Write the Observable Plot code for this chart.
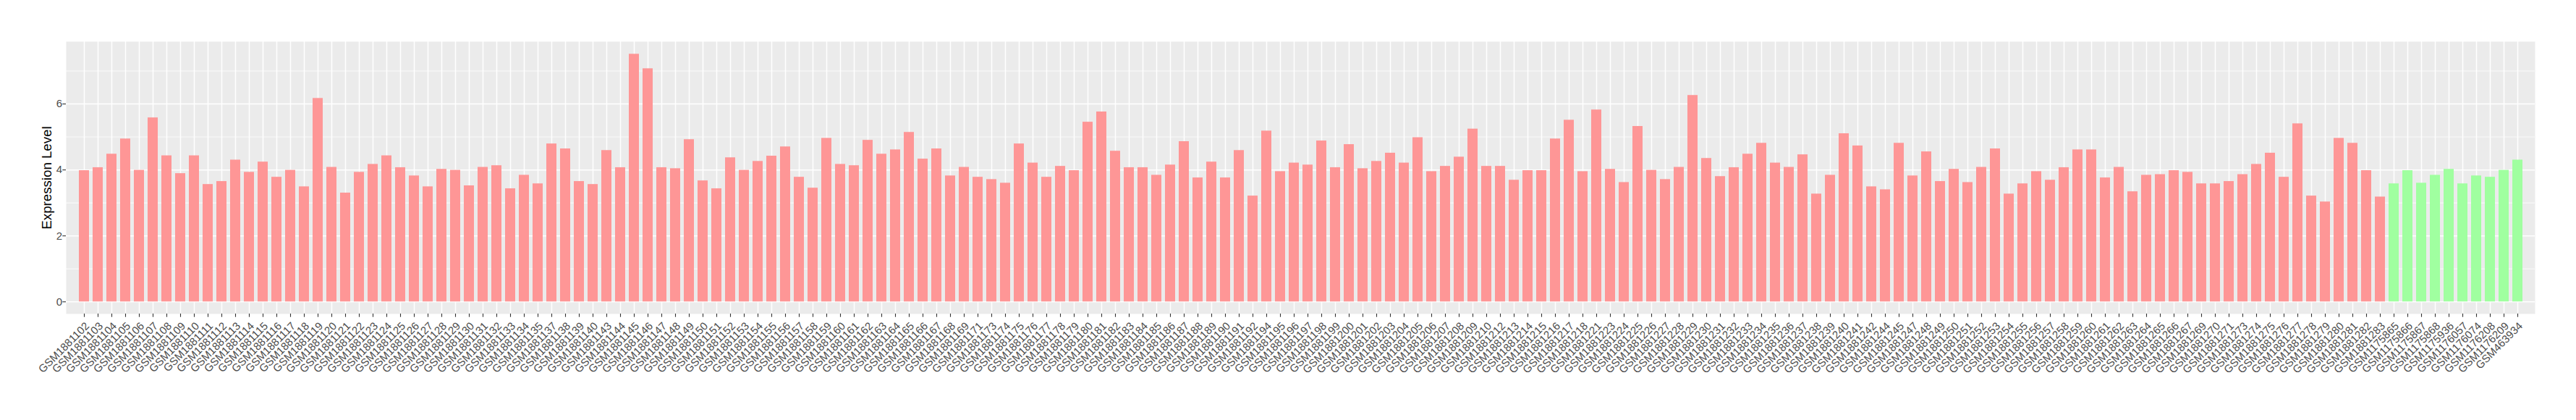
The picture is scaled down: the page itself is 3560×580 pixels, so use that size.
<!DOCTYPE html>
<html><head><meta charset="utf-8">
<script src="https://cdn.jsdelivr.net/npm/d3@7"></script>
<script src="https://cdn.jsdelivr.net/npm/@observablehq/plot@0.6"></script>
<style>
body{margin:0;background:#fff;}
#chart svg{font-family:"Liberation Sans",Arial,Helvetica,sans-serif;}
</style>
</head><body><div id="chart"></div>
<script>
const tumorSamples = [
"GSM1881102","GSM1881103","GSM1881104","GSM1881105","GSM1881106","GSM1881107","GSM1881108","GSM1881109","GSM1881110","GSM1881111",
"GSM1881112","GSM1881113","GSM1881114","GSM1881115","GSM1881116","GSM1881117","GSM1881118","GSM1881119","GSM1881120","GSM1881121",
"GSM1881122","GSM1881123","GSM1881124","GSM1881125","GSM1881126","GSM1881127","GSM1881128","GSM1881129","GSM1881130","GSM1881131",
"GSM1881132","GSM1881133","GSM1881134","GSM1881135","GSM1881137","GSM1881138","GSM1881139","GSM1881140","GSM1881143","GSM1881144",
"GSM1881145","GSM1881146","GSM1881147","GSM1881148","GSM1881149","GSM1881150","GSM1881151","GSM1881152","GSM1881153","GSM1881154",
"GSM1881155","GSM1881156","GSM1881157","GSM1881158","GSM1881159","GSM1881160","GSM1881161","GSM1881162","GSM1881163","GSM1881164",
"GSM1881165","GSM1881166","GSM1881167","GSM1881168","GSM1881169","GSM1881171","GSM1881173","GSM1881174","GSM1881175","GSM1881176",
"GSM1881177","GSM1881178","GSM1881179","GSM1881180","GSM1881181","GSM1881182","GSM1881183","GSM1881184","GSM1881185","GSM1881186",
"GSM1881187","GSM1881188","GSM1881189","GSM1881190","GSM1881191","GSM1881192","GSM1881194","GSM1881195","GSM1881196","GSM1881197",
"GSM1881198","GSM1881199","GSM1881200","GSM1881201","GSM1881202","GSM1881203","GSM1881204","GSM1881205","GSM1881206","GSM1881207",
"GSM1881208","GSM1881209","GSM1881210","GSM1881212","GSM1881213","GSM1881214","GSM1881215","GSM1881216","GSM1881217","GSM1881218",
"GSM1881221","GSM1881223","GSM1881224","GSM1881225","GSM1881226","GSM1881227","GSM1881228","GSM1881229","GSM1881230","GSM1881231",
"GSM1881232","GSM1881233","GSM1881234","GSM1881235","GSM1881236","GSM1881237","GSM1881238","GSM1881239","GSM1881240","GSM1881241",
"GSM1881242","GSM1881244","GSM1881245","GSM1881247","GSM1881248","GSM1881249","GSM1881250","GSM1881251","GSM1881252","GSM1881253",
"GSM1881254","GSM1881255","GSM1881256","GSM1881257","GSM1881258","GSM1881259","GSM1881260","GSM1881261","GSM1881262","GSM1881263",
"GSM1881264","GSM1881265","GSM1881266","GSM1881267","GSM1881269","GSM1881270","GSM1881271","GSM1881273","GSM1881274","GSM1881275",
"GSM1881276","GSM1881277","GSM1881278","GSM1881279","GSM1881280","GSM1881281","GSM1881282","GSM1881283"
];
const tumorValues = [
3.98,4.07,4.48,4.94,3.99,5.58,4.43,3.89,4.43,3.56,
3.65,4.30,3.93,4.24,3.78,3.99,3.49,6.17,4.08,3.30,
3.93,4.17,4.43,4.07,3.82,3.49,4.02,3.99,3.52,4.08,
4.13,3.43,3.84,3.58,4.79,4.64,3.65,3.56,4.59,4.07,
7.51,7.07,4.07,4.04,4.92,3.67,3.43,4.37,3.99,4.26,
4.42,4.70,3.78,3.45,4.96,4.17,4.13,4.90,4.48,4.61,
5.14,4.33,4.64,3.82,4.08,3.78,3.71,3.60,4.79,4.21,
3.78,4.11,3.98,5.45,5.76,4.57,4.07,4.07,3.84,4.15,
4.86,3.76,4.24,3.76,4.59,3.21,5.18,3.95,4.21,4.15,
4.88,4.07,4.77,4.04,4.26,4.51,4.21,4.98,3.95,4.11,
4.39,5.24,4.11,4.11,3.69,3.98,3.98,4.94,5.51,3.95,
5.82,4.02,3.62,5.32,3.99,3.71,4.08,6.26,4.35,3.80,
4.07,4.48,4.81,4.21,4.08,4.46,3.27,3.84,5.10,4.73,
3.49,3.40,4.81,3.82,4.55,3.65,4.02,3.62,4.08,4.64,
3.27,3.58,3.95,3.69,4.07,4.61,4.61,3.76,4.08,3.34,
3.84,3.86,3.98,3.93,3.58,3.58,3.65,3.86,4.17,4.51,
3.78,5.40,3.21,3.03,4.96,4.81,3.98,3.18
];
const normalSamples = [
"GSM1175865","GSM1175866","GSM1175867","GSM1175868","GSM1175936",
"GSM1176057","GSM1176074","GSM1176208","GSM1176209","GSM463934"
];
const normalValues = [3.58,3.98,3.60,3.84,4.02,3.58,3.82,3.78,3.99,4.30];
const groupNames = ["Tumor","Normal"];
const yMajorTicks = [0,2,4,6];
const yMinorTicks = [1,3,5,7];
const yTitle = "Expression Level";

const data = [
  ...tumorSamples.map((s,i)=>({sample:s, value:tumorValues[i], group:groupNames[0]})),
  ...normalSamples.map((s,i)=>({sample:s, value:normalValues[i], group:groupNames[1]}))
];

const tickLen = 4.7;
const chart = Plot.plot({
  width:3560, height:580,
  marginLeft:91, marginRight:57, marginTop:57, marginBottom:147,
  style:{fontFamily:"Liberation Sans, Arial, Helvetica, sans-serif", background:"white", overflow:"visible"},
  x:{type:"band", domain:data.map(d=>d.sample), paddingInner:0.27, paddingOuter:0.235, label:null, axis:null},
  y:{domain:[-0.367,7.89], label:null, axis:null},
  color:{domain:groupNames, range:["#FE9696","#A0FFA0"]},
  marks:[
    Plot.frame({fill:"#EBEBEB", stroke:null}),
    Plot.ruleY(yMinorTicks, {stroke:"white", strokeWidth:0.8}),
    Plot.ruleY(yMajorTicks, {stroke:"white", strokeWidth:1.5}),
    Plot.ruleX(data, {x:"sample", stroke:"white", strokeWidth:1.5}),
    Plot.barY(data, {x:"sample", y:"value", fill:"group"}),
    // axis ticks
    Plot.axisY({ticks:yMajorTicks, tickSize:tickLen, tickFormat:()=>"", color:"#333333", strokeWidth:1.1, label:null}),
    Plot.axisX({tickSize:tickLen, tickFormat:()=>"", color:"#333333", strokeWidth:1.1, label:null}),
    // tick labels
    Plot.text(yMajorTicks, {y:d=>d, text:d=>String(d), frameAnchor:"left", dx:-(tickLen+0.8), textAnchor:"end", lineAnchor:"middle", fontSize:15, fill:"#4D4D4D"}),
    Plot.text(data, {x:"sample", text:"sample", frameAnchor:"bottom", dx:0, dy:10, rotate:-45, textAnchor:"end", lineAnchor:"top", fontSize:15, fill:"#4D4D4D"}),
    // y title
    Plot.text([yTitle], {frameAnchor:"left", dx:-26, rotate:-90, textAnchor:"middle", lineAnchor:"middle", fontSize:18.7, fill:"black"})
  ]
});
document.getElementById("chart").append(chart);
</script>
</body></html>
